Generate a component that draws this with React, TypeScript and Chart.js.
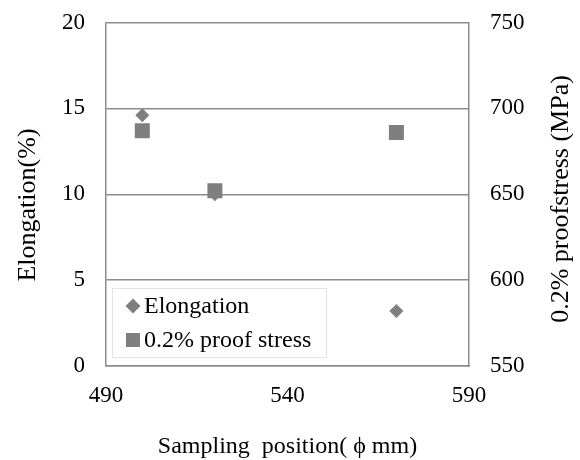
import React, { useEffect, useRef } from "react";
import { Chart, registerables } from "chart.js";

Chart.register(...registerables);

const positions = [500, 520, 570];
const elongation = [14.6, 10.0, 3.2];
const proofStress = [687, 652, 686];

const xTitle = "Sampling  position( \u03d5 mm)";
const yTitle = "Elongation(%)";
const y1Title = "0.2% proofstress (MPa)";
const elongLabel = "Elongation";
const proofLabel = "0.2% proof stress";

const FONT = "'Liberation Serif', 'Times New Roman', serif";
const GRAY = "#7f7f7f";
const GRID = "#8c8c8c";

const overlayPlugin = {
  id: "overlay",
  afterDraw(chart: any) {
    const { ctx, chartArea } = chart;
    ctx.save();
    ctx.fillStyle = "#000";
    ctx.textAlign = "center";
    ctx.textBaseline = "middle";
    // x title
    ctx.font = `24px ${FONT}`;
    ctx.fillText(xTitle, (chartArea.left + chartArea.right) / 2, 447);
    // left title
    ctx.font = `26px ${FONT}`;
    ctx.save();
    ctx.translate(28, 205);
    ctx.rotate(-Math.PI / 2);
    ctx.fillText(yTitle, 0, 0);
    ctx.restore();
    // right title
    ctx.save();
    ctx.translate(561, 199);
    ctx.rotate(-Math.PI / 2);
    ctx.fillText(y1Title, 0, 0);
    ctx.restore();

    // legend
    const lx = chartArea.left + 6;
    const ly = 288;
    ctx.fillStyle = "#fff";
    ctx.fillRect(lx, ly, 214, 69);
    ctx.strokeStyle = "#e3e3e3";
    ctx.lineWidth = 1;
    ctx.strokeRect(lx + 0.5, ly + 0.5, 214, 69);
    ctx.fillStyle = GRAY;
    // diamond
    const dx = lx + 21, dy = ly + 18, dr = 7.5;
    ctx.beginPath();
    ctx.moveTo(dx - dr, dy);
    ctx.lineTo(dx, dy - dr);
    ctx.lineTo(dx + dr, dy);
    ctx.lineTo(dx, dy + dr);
    ctx.closePath();
    ctx.fill();
    // square
    const sx = lx + 21, sy = ly + 52, ss = 7;
    ctx.fillRect(sx - ss, sy - ss, ss * 2, ss * 2);
    ctx.fillStyle = "#000";
    ctx.textAlign = "left";
    ctx.font = `24px ${FONT}`;
    ctx.fillText(elongLabel, lx + 32, dy + 1);
    ctx.fillText(proofLabel, lx + 32, sy + 1);
    ctx.restore();
  },
};

export default function App() {
  const ref = useRef<HTMLCanvasElement>(null);
  useEffect(() => {
    const chart = new Chart(ref.current!, {
      type: "scatter",
      data: {
        datasets: [
          {
            label: proofLabel,
            data: positions.map((x, i) => ({ x, y: proofStress[i] })),
            yAxisID: "y1",
            pointStyle: "rect",
            pointRadius: 10.6,
            backgroundColor: GRAY,
            borderColor: GRAY,
            borderWidth: 0,
            order: 0,
          },
          {
            label: elongLabel,
            data: positions.map((x, i) => ({ x, y: elongation[i] })),
            yAxisID: "y",
            pointStyle: "rectRot",
            pointRadius: 7,
            backgroundColor: GRAY,
            borderColor: GRAY,
            borderWidth: 0,
            order: 1,
          },
        ],
      },
      options: {
        responsive: false,
        animation: false,
        layout: { padding: { top: 22.5, left: 0, right: 0, bottom: 0 } },
        plugins: { legend: { display: false }, tooltip: { enabled: false } },
        scales: {
          x: {
            type: "linear",
            min: 490,
            max: 590,
            ticks: { stepSize: 50, color: "#000", font: { family: FONT, size: 23 }, padding: 16 },
            grid: { display: false, drawTicks: false },
            border: { display: true, color: GRID, width: 1.5 },
            afterFit: (s: any) => { s.height = 94; },
          },
          y: {
            position: "left",
            min: 0,
            max: 20,
            ticks: { stepSize: 5, color: "#000", font: { family: FONT, size: 23 }, padding: 21 },
            grid: { color: GRID, lineWidth: 1.5, drawTicks: false },
            border: { display: true, color: GRID, width: 1.5 },
            afterFit: (s: any) => { s.width = 106; s.paddingTop = 0; s.paddingBottom = 0; },
          },
          y1: {
            position: "right",
            min: 550,
            max: 750,
            ticks: { stepSize: 50, color: "#000", font: { family: FONT, size: 23 }, padding: 21 },
            grid: { display: false, drawTicks: false },
            border: { display: true, color: GRID, width: 1.5 },
            afterFit: (s: any) => { s.width = 111; s.paddingTop = 0; s.paddingBottom = 0; },
          },
        },
      },
      plugins: [overlayPlugin],
    });
    return () => chart.destroy();
  }, []);
  return (
    <div style={{ position: "absolute", left: 0, top: 0, width: 580, height: 460, background: "#fff" }}>
      <canvas ref={ref} width={580} height={460} />
    </div>
  );
}
